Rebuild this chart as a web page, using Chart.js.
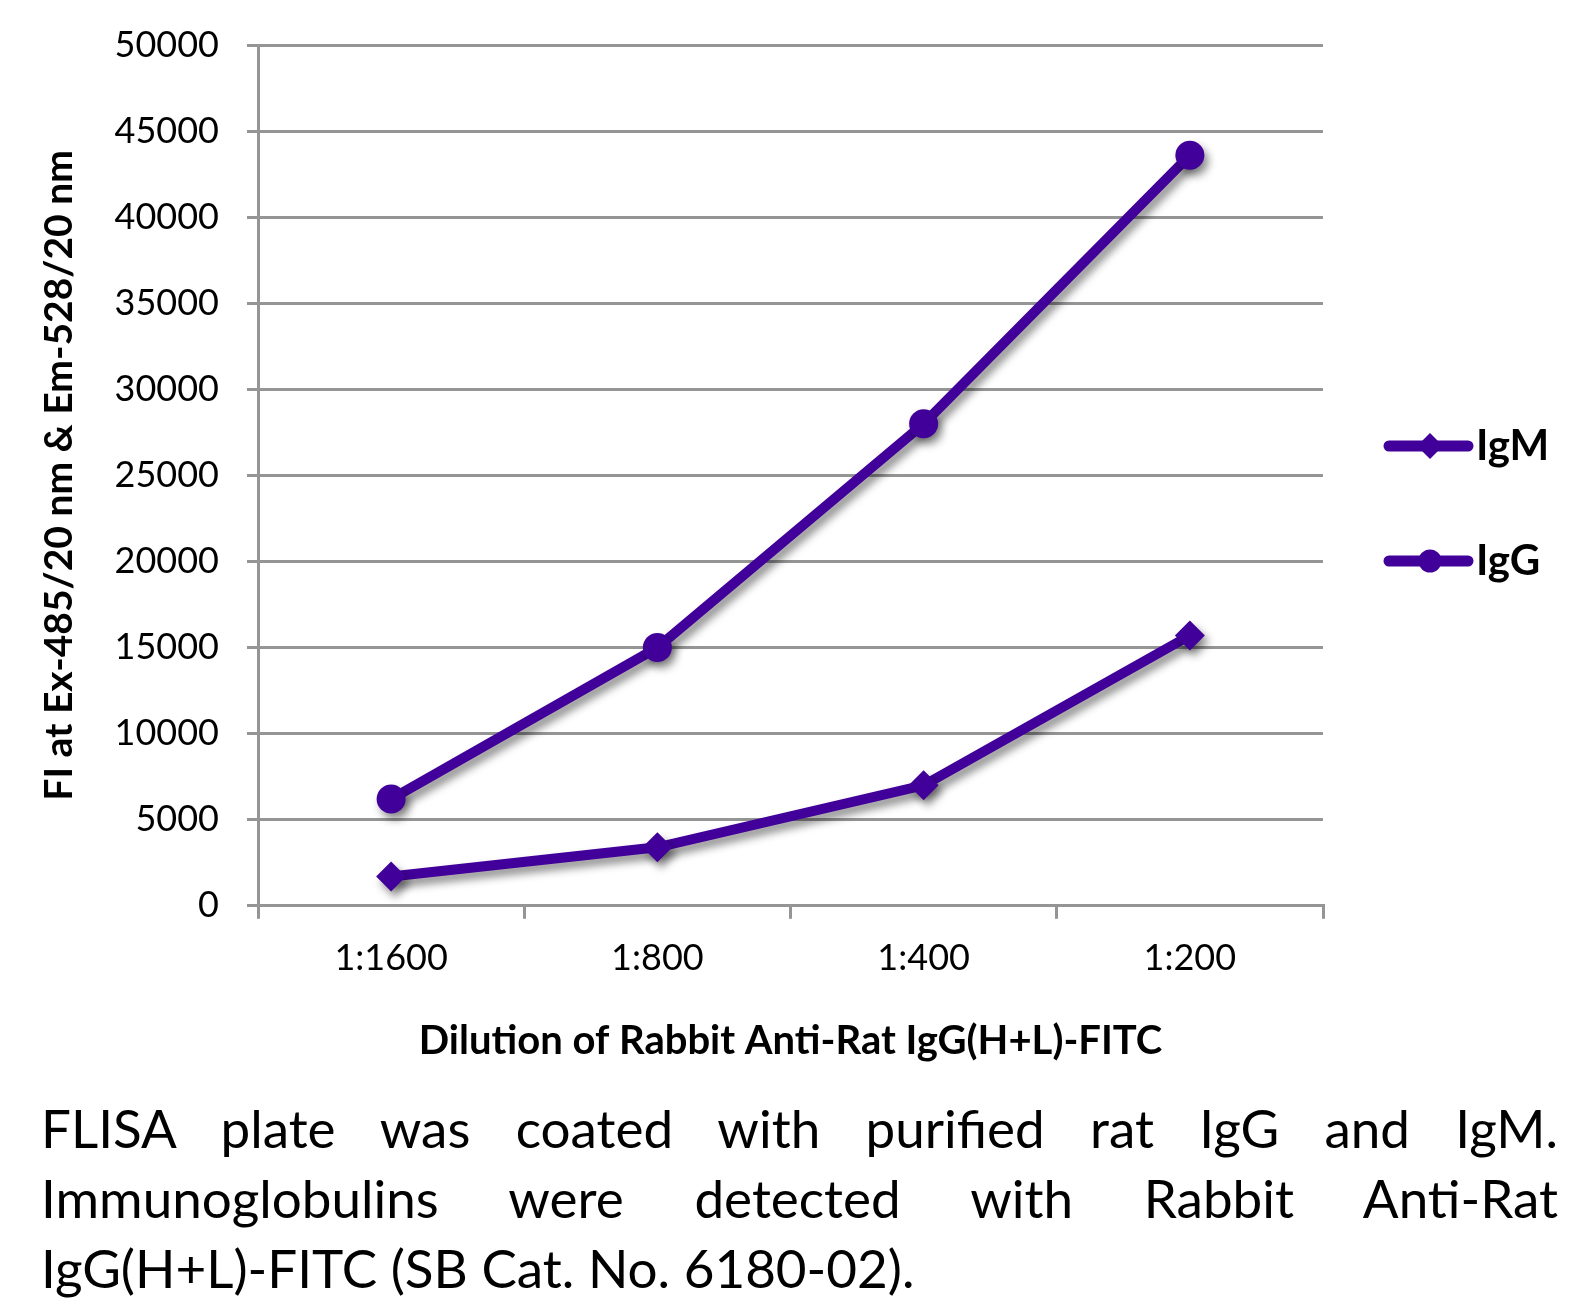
<!DOCTYPE html>
<html><head><meta charset="utf-8">
<script src="https://cdn.jsdelivr.net/npm/chart.js@4/dist/chart.umd.min.js"></script>
<style>
html,body{margin:0;padding:0;background:#fff;}
#wrap{position:absolute;left:0;top:0;width:1590px;height:1085px;}
#cap{position:absolute;left:41px;top:1093px;width:1517px;font-family:Lato,sans-serif;font-size:53px;line-height:70px;color:#000;}
#cap div{white-space:normal;}
#cap .j{text-align:justify;text-align-last:justify;}
</style></head>
<body>
<div id="wrap"><canvas id="c" width="1590" height="1085"></canvas></div>
<div id="cap">
<div class="j">FLISA plate was coated with purified rat IgG and IgM.</div>
<div class="j">Immunoglobulins were detected with Rabbit Anti-Rat</div>
<div>IgG(H+L)-FITC (SB Cat. No. 6180-02).</div>
</div>
<script>
const categories = ['1:1600', '1:800', '1:400', '1:200'];
const igmValues = [1700, 3400, 7000, 15700];
const iggValues = [6200, 15000, 28000, 43600];
const seriesNames = ['IgM', 'IgG'];
const yMin = 0, yMax = 50000, yStep = 5000;
const yTitle = 'FI at Ex-485/20 nm & Em-528/20 nm';
const xTitle = 'Dilution of Rabbit Anti-Rat IgG(H+L)-FITC';

const PURPLE = '#42009b';
const GRID = '#959595';
const FONT = 'Lato, sans-serif';

const shadowPlugin = {
  id: 'shadow',
  beforeDatasetsDraw(chart) {
    const ctx = chart.ctx;
    ctx.save();
    ctx.shadowColor = 'rgba(0,0,0,0.45)';
    ctx.shadowBlur = 9;
    ctx.shadowOffsetX = 4;
    ctx.shadowOffsetY = 6;
  },
  afterDatasetsDraw(chart) { chart.ctx.restore(); }
};

const legendPlugin = {
  id: 'customLegend',
  afterDraw(chart) {
    const ctx = chart.ctx;
    const ys = [446, 561];
    chart.data.datasets.forEach((ds, i) => {
      const y = ys[i];
      ctx.save();
      ctx.strokeStyle = PURPLE; ctx.fillStyle = PURPLE;
      ctx.lineWidth = 11; ctx.lineCap = 'round';
      ctx.beginPath(); ctx.moveTo(1389, y); ctx.lineTo(1468, y); ctx.stroke();
      const cx = 1430;
      ctx.beginPath();
      if (ds.pointStyle === 'rectRot') {
        const r = 13;
        ctx.moveTo(cx, y - r); ctx.lineTo(cx + r, y); ctx.lineTo(cx, y + r); ctx.lineTo(cx - r, y); ctx.closePath();
      } else {
        ctx.arc(cx, y, 11.5, 0, Math.PI * 2);
      }
      ctx.fill();
      ctx.fillStyle = '#000';
      ctx.font = 'bold 42px ' + FONT;
      ctx.textBaseline = 'middle';
      ctx.textAlign = 'left';
      ctx.fillText(ds.label, 1476, y);
      ctx.restore();
    });
  }
};

new Chart(document.getElementById('c'), {
  type: 'line',
  data: {
    labels: categories,
    datasets: [
      { label: seriesNames[0], data: igmValues, borderColor: PURPLE, backgroundColor: PURPLE,
        borderWidth: 10, pointStyle: 'rectRot', pointRadius: 15, pointBorderWidth: 0, tension: 0, fill: false },
      { label: seriesNames[1], data: iggValues, borderColor: PURPLE, backgroundColor: PURPLE,
        borderWidth: 10, pointStyle: 'circle', pointRadius: 14.5, pointBorderWidth: 0, tension: 0, fill: false }
    ]
  },
  options: {
    responsive: false,
    animation: false,
    layout: { padding: { left: 0, right: 267, top: 45, bottom: 0 } },
    plugins: { legend: { display: false }, tooltip: { enabled: false } },
    scales: {
      x: {
        offset: true,
        grid: { offset: true, drawOnChartArea: false, color: GRID, lineWidth: 3, tickLength: 13 },
        border: { color: GRID, width: 3 },
        ticks: { color: '#000', font: { family: FONT, size: 36 }, padding: 18, maxRotation: 0 },
        title: { display: true, text: xTitle, color: '#000', font: { family: FONT, size: 40, weight: 'bold' }, padding: { top: 19, bottom: 20 } }
      },
      y: {
        min: yMin, max: yMax,
        afterFit(scale) { scale.width = 258; scale.paddingTop = 0; scale.paddingBottom = 0; },
        grid: { color: GRID, lineWidth: 3, tickLength: 11 },
        border: { color: GRID, width: 3 },
        ticks: { stepSize: yStep, color: '#000', font: { family: FONT, size: 36 }, padding: 28,
                 callback: (v) => String(v) },
        title: { display: true, text: yTitle, color: '#000', font: { family: FONT, size: 39, weight: 'bold' }, padding: { top: 36, bottom: 0 } }
      }
    }
  },
  plugins: [shadowPlugin, legendPlugin]
});
</script>
</body></html>
